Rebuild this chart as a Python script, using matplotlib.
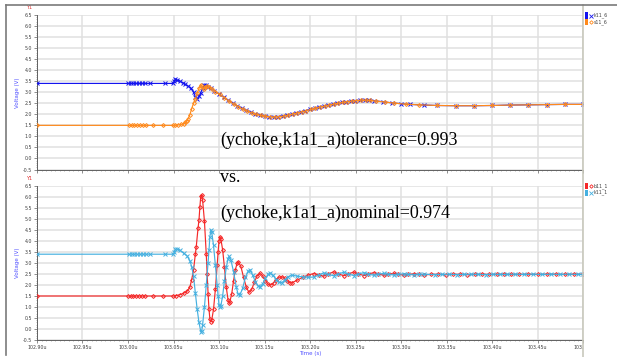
import numpy as np
import matplotlib
matplotlib.use("Agg")
import matplotlib.pyplot as plt
from matplotlib.ticker import MultipleLocator, FuncFormatter
from matplotlib.patches import Rectangle
from matplotlib.lines import Line2D

# transient waveforms, (time in us, voltage in V)
k11_6 = [(102.900, 3.40), (103.000, 3.40), (103.003, 3.40), (103.006, 3.40), (103.009, 3.40),
         (103.012, 3.40), (103.015, 3.40), (103.019, 3.40), (103.024, 3.40), (103.041, 3.40),
         (103.050, 3.40), (103.051, 3.52), (103.052, 3.60), (103.054, 3.56), (103.057, 3.50),
         (103.060, 3.43), (103.063, 3.36), (103.066, 3.28), (103.069, 3.18), (103.072, 3.00),
         (103.074, 2.80), (103.076, 2.70), (103.078, 2.82), (103.080, 2.98), (103.082, 3.18),
         (103.084, 3.33), (103.086, 3.32), (103.088, 3.26), (103.091, 3.18), (103.095, 3.06),
         (103.100, 2.93), (103.105, 2.78), (103.110, 2.63), (103.115, 2.50), (103.120, 2.38),
         (103.125, 2.27), (103.130, 2.18), (103.135, 2.09), (103.140, 2.02), (103.145, 1.97),
         (103.150, 1.92), (103.155, 1.90), (103.160, 1.89), (103.165, 1.90), (103.170, 1.93),
         (103.175, 1.96), (103.180, 2.01), (103.185, 2.06), (103.190, 2.11), (103.195, 2.16),
         (103.200, 2.22), (103.205, 2.27), (103.210, 2.33), (103.215, 2.37), (103.220, 2.42),
         (103.225, 2.46), (103.230, 2.50), (103.235, 2.54), (103.240, 2.57), (103.245, 2.60),
         (103.250, 2.62), (103.255, 2.63), (103.260, 2.64), (103.265, 2.64), (103.270, 2.62),
         (103.280, 2.57), (103.290, 2.52), (103.300, 2.48), (103.310, 2.45), (103.325, 2.42),
         (103.340, 2.40), (103.360, 2.39), (103.380, 2.39), (103.400, 2.40), (103.420, 2.42),
         (103.440, 2.43), (103.460, 2.44), (103.480, 2.45), (103.500, 2.45)]

s11_6 = [(102.900, 1.50), (103.001, 1.50), (103.004, 1.50), (103.007, 1.50), (103.010, 1.50),
         (103.013, 1.50), (103.016, 1.50), (103.020, 1.50), (103.027, 1.50), (103.038, 1.50),
         (103.050, 1.50), (103.052, 1.51), (103.055, 1.52), (103.058, 1.54), (103.061, 1.57),
         (103.063, 1.63), (103.065, 1.72), (103.066, 1.80), (103.068, 1.98), (103.070, 2.26),
         (103.072, 2.50), (103.074, 2.71), (103.076, 2.95), (103.078, 3.17), (103.080, 3.35),
         (103.082, 3.22), (103.083, 3.14), (103.085, 3.22), (103.087, 3.29), (103.089, 3.25),
         (103.092, 3.15), (103.096, 3.03), (103.101, 2.90), (103.106, 2.75), (103.111, 2.60),
         (103.116, 2.47), (103.121, 2.35), (103.126, 2.24), (103.131, 2.15), (103.136, 2.07),
         (103.141, 2.00), (103.146, 1.95), (103.151, 1.91), (103.156, 1.89), (103.161, 1.88),
         (103.166, 1.89), (103.171, 1.92), (103.176, 1.96), (103.181, 2.01), (103.186, 2.06),
         (103.191, 2.11), (103.196, 2.16), (103.201, 2.22), (103.206, 2.27), (103.211, 2.33),
         (103.216, 2.37), (103.221, 2.42), (103.226, 2.46), (103.231, 2.50), (103.236, 2.54),
         (103.241, 2.57), (103.246, 2.60), (103.251, 2.62), (103.256, 2.64), (103.261, 2.64),
         (103.266, 2.63), (103.272, 2.60), (103.282, 2.56), (103.292, 2.51), (103.305, 2.46),
         (103.320, 2.43), (103.340, 2.40), (103.360, 2.39), (103.380, 2.39), (103.400, 2.40),
         (103.420, 2.42), (103.440, 2.43), (103.460, 2.44), (103.480, 2.45), (103.500, 2.45)]

b11_1 = [(102.900, 1.50), (103.000, 1.50), (103.003, 1.50), (103.006, 1.50), (103.009, 1.50),
         (103.012, 1.50), (103.015, 1.50), (103.019, 1.50), (103.027, 1.50), (103.038, 1.50),
         (103.050, 1.50), (103.053, 1.52), (103.057, 1.56), (103.061, 1.62), (103.065, 1.72),
         (103.068, 1.90), (103.070, 2.25), (103.072, 2.68), (103.074, 3.40), (103.075, 3.74),
         (103.077, 4.60), (103.078, 4.95), (103.079, 5.55), (103.080, 6.05), (103.081, 6.08),
         (103.082, 5.85), (103.084, 4.90), (103.086, 3.40), (103.087, 2.50), (103.088, 1.60),
         (103.089, 0.90), (103.090, 0.45), (103.091, 0.33), (103.092, 0.40), (103.094, 0.90),
         (103.096, 1.80), (103.098, 2.90), (103.099, 3.50), (103.100, 4.00), (103.101, 4.20),
         (103.102, 4.10), (103.104, 3.60), (103.106, 2.80), (103.108, 1.90), (103.110, 1.30),
         (103.111, 1.20), (103.112, 1.25), (103.114, 1.60), (103.116, 2.20), (103.118, 2.70),
         (103.120, 3.00), (103.121, 3.06), (103.124, 2.85), (103.127, 2.35), (103.130, 1.90),
         (103.133, 1.66), (103.136, 1.80), (103.139, 2.15), (103.142, 2.42), (103.145, 2.53),
         (103.148, 2.42), (103.151, 2.20), (103.154, 2.03), (103.157, 2.00), (103.160, 2.10),
         (103.163, 2.25), (103.166, 2.35), (103.169, 2.38), (103.172, 2.30), (103.175, 2.18),
         (103.178, 2.11), (103.180, 2.10), (103.186, 2.22), (103.192, 2.35), (103.198, 2.45),
         (103.204, 2.52), (103.210, 2.46), (103.215, 2.40), (103.220, 2.50), (103.226, 2.60),
         (103.231, 2.51), (103.237, 2.42), (103.242, 2.50), (103.248, 2.59), (103.253, 2.51),
         (103.259, 2.43), (103.264, 2.50), (103.270, 2.56), (103.275, 2.50), (103.281, 2.44),
         (103.286, 2.49), (103.292, 2.53), (103.297, 2.49), (103.303, 2.45), (103.308, 2.48),
         (103.314, 2.51), (103.320, 2.48), (103.325, 2.46), (103.333, 2.48), (103.341, 2.49),
         (103.349, 2.47), (103.357, 2.48), (103.365, 2.49), (103.373, 2.47), (103.381, 2.48),
         (103.389, 2.49), (103.397, 2.48), (103.405, 2.48), (103.413, 2.49), (103.421, 2.48),
         (103.430, 2.48), (103.440, 2.49), (103.450, 2.48), (103.460, 2.49), (103.470, 2.49),
         (103.480, 2.48), (103.490, 2.49), (103.500, 2.49)]

k11_1 = [(102.900, 3.40), (103.001, 3.40), (103.004, 3.40), (103.007, 3.40), (103.010, 3.40),
         (103.013, 3.40), (103.016, 3.40), (103.020, 3.40), (103.024, 3.40), (103.041, 3.40),
         (103.050, 3.40), (103.051, 3.50), (103.052, 3.62), (103.054, 3.64), (103.057, 3.58),
         (103.061, 3.45), (103.065, 3.32), (103.068, 3.10), (103.070, 2.83), (103.072, 2.40),
         (103.074, 1.64), (103.076, 0.90), (103.078, 0.30), (103.080, -0.12), (103.081, -0.10),
         (103.082, 0.20), (103.084, 1.00), (103.086, 2.00), (103.088, 3.00), (103.089, 3.60),
         (103.090, 4.20), (103.091, 4.50), (103.092, 4.40), (103.094, 3.80), (103.096, 2.90),
         (103.098, 2.00), (103.099, 1.50), (103.100, 1.10), (103.101, 1.00), (103.102, 1.05),
         (103.104, 1.50), (103.106, 2.20), (103.108, 2.80), (103.110, 3.20), (103.111, 3.30),
         (103.113, 3.15), (103.116, 2.60), (103.119, 1.90), (103.121, 1.58), (103.123, 1.55),
         (103.126, 1.85), (103.129, 2.35), (103.132, 2.62), (103.134, 2.68), (103.137, 2.45),
         (103.140, 2.15), (103.143, 1.95), (103.145, 1.92), (103.148, 2.05), (103.151, 2.30),
         (103.154, 2.48), (103.156, 2.53), (103.159, 2.45), (103.163, 2.25), (103.166, 2.13),
         (103.169, 2.10), (103.172, 2.22), (103.176, 2.38), (103.180, 2.45), (103.186, 2.40),
         (103.192, 2.37), (103.198, 2.35), (103.204, 2.36), (103.210, 2.46), (103.215, 2.55),
         (103.220, 2.48), (103.226, 2.42), (103.231, 2.50), (103.237, 2.58), (103.242, 2.50),
         (103.248, 2.43), (103.253, 2.50), (103.259, 2.56), (103.264, 2.50), (103.270, 2.44),
         (103.275, 2.49), (103.281, 2.53), (103.286, 2.49), (103.292, 2.45), (103.297, 2.48),
         (103.303, 2.51), (103.308, 2.48), (103.314, 2.46), (103.320, 2.48), (103.325, 2.49),
         (103.337, 2.47), (103.345, 2.48), (103.353, 2.49), (103.361, 2.47), (103.369, 2.48),
         (103.377, 2.49), (103.385, 2.48), (103.393, 2.47), (103.401, 2.49), (103.409, 2.48),
         (103.417, 2.48), (103.425, 2.49), (103.435, 2.48), (103.445, 2.49), (103.455, 2.48),
         (103.465, 2.49), (103.475, 2.48), (103.485, 2.49), (103.495, 2.48), (103.500, 2.48)]

annotations = ["(ychoke,k1a1_a)tolerance=0.993", "vs.", "(ychoke,k1a1_a)nominal=0.974"]

W, H = 617, 357
fig = plt.figure(figsize=(W / 100, H / 100), dpi=100)
fig.patch.set_facecolor("white")


def px(x0, y0, x1, y1):
    # pixel box -> figure fraction rect
    return [x0 / W, 1 - y1 / H, (x1 - x0) / W, (y1 - y0) / H]


ax_top = fig.add_axes(px(37, 15, 583, 169.5))
ax_bot = fig.add_axes(px(37, 186, 583, 340))

panels = [
    (ax_top, [("k11_6", k11_6, "#1414ee", "x"), ("s11_6", s11_6, "#ff8a1c", "D")]),
    (ax_bot, [("b11_1", b11_1, "#f52828", "D"), ("k11_1", k11_1, "#45b0e0", "x")]),
]

for ax, series in panels:
    for name, data, color, mk in series:
        t, v = np.array(data).T
        ax.plot(t, v, color=color, lw=0.85, marker=mk, ms=2.6 if mk == "x" else 2.0,
                mew=0.7, mfc="none", mec=color, zorder=3)
    ax.set_xlim(102.90, 103.50)
    ax.set_ylim(-0.5, 6.5)
    ax.xaxis.set_major_locator(MultipleLocator(0.05))
    ax.xaxis.set_minor_locator(MultipleLocator(0.005))
    ax.yaxis.set_major_locator(MultipleLocator(0.5))
    ax.yaxis.set_minor_locator(MultipleLocator(0.1))
    ax.yaxis.set_major_formatter(FuncFormatter(lambda y, p: f"{y:.1f}"))
    ax.grid(True, which="major", color="#e0e0e0", lw=1.1, zorder=0)
    ax.set_axisbelow(True)
    for s in ["top", "right"]:
        ax.spines[s].set_visible(False)
    for s in ["left", "bottom"]:
        ax.spines[s].set_color("#606060")
        ax.spines[s].set_linewidth(0.7)
    ax.tick_params(which="major", length=2, width=0.5, color="#606060",
                   labelsize=3.4, labelcolor="#404040", pad=1.5)
    ax.tick_params(which="minor", length=1, width=0.4, color="#808080")
    ax.set_ylabel("Voltage (V)", fontsize=4, color="#5050ff", labelpad=2)
    ax.text(-0.008, 1.035, "Y1", transform=ax.transAxes, fontsize=3.6, color="#e03030",
            ha="right", va="bottom")

ax_top.tick_params(axis="x", labelbottom=False)
ax_bot.xaxis.set_major_formatter(FuncFormatter(lambda x, p: f"{x:.2f}u"))
ax_bot.set_xlabel("Time (s)", fontsize=4, color="#5050ff", labelpad=1)

# legend strip on the right hides the clipped last tick label
fig.add_artist(Rectangle((583.5 / W, 0), 1 - 583.5 / W, 1 - 5.5 / H,
                         transform=fig.transFigure, facecolor="white",
                         edgecolor="none", zorder=5))
fig.add_artist(Line2D([583 / W, 583 / W], [0, 1 - 5 / H], transform=fig.transFigure,
                      color="#c8c8bc", lw=1.2, zorder=6))

# outer frame
fig.add_artist(Line2D([6 / W, 1], [1 - 5 / H, 1 - 5 / H], transform=fig.transFigure,
                      color="#7a7a7a", lw=1.2, zorder=6))
fig.add_artist(Line2D([6 / W, 6 / W], [1 - 5 / H, 2 / H], transform=fig.transFigure,
                      color="#7a7a7a", lw=1.2, zorder=6))

legend_rows = [(15.5, panels[0][1]), (186.0, panels[1][1])]
for y0, series in legend_rows:
    for i, (name, data, color, mk) in enumerate(series):
        yc = y0 + i * 6.5
        fig.add_artist(Rectangle((585 / W, 1 - (yc + 3) / H), 2.5 / W, 6 / H,
                                 transform=fig.transFigure, facecolor=color,
                                 edgecolor="none", zorder=7))
        fig.add_artist(Line2D([591 / W], [1 - yc / H], transform=fig.transFigure,
                              marker=mk, ms=2.4 if mk == "x" else 1.8, mew=0.6,
                              mfc="none", mec=color, lw=0, zorder=7))
        fig.text(594 / W, 1 - yc / H, name, fontsize=3.4, color="#404040",
                 va="center", ha="left", zorder=7)

# correlation labels written across both panels
for txt, yc in zip(annotations, [140, 177, 213]):
    fig.text(220 / W, 1 - yc / H, txt, fontsize=13, family="Liberation Serif",
             color="black", va="center", ha="left", zorder=8)

fig.savefig("out.png", dpi=100)
